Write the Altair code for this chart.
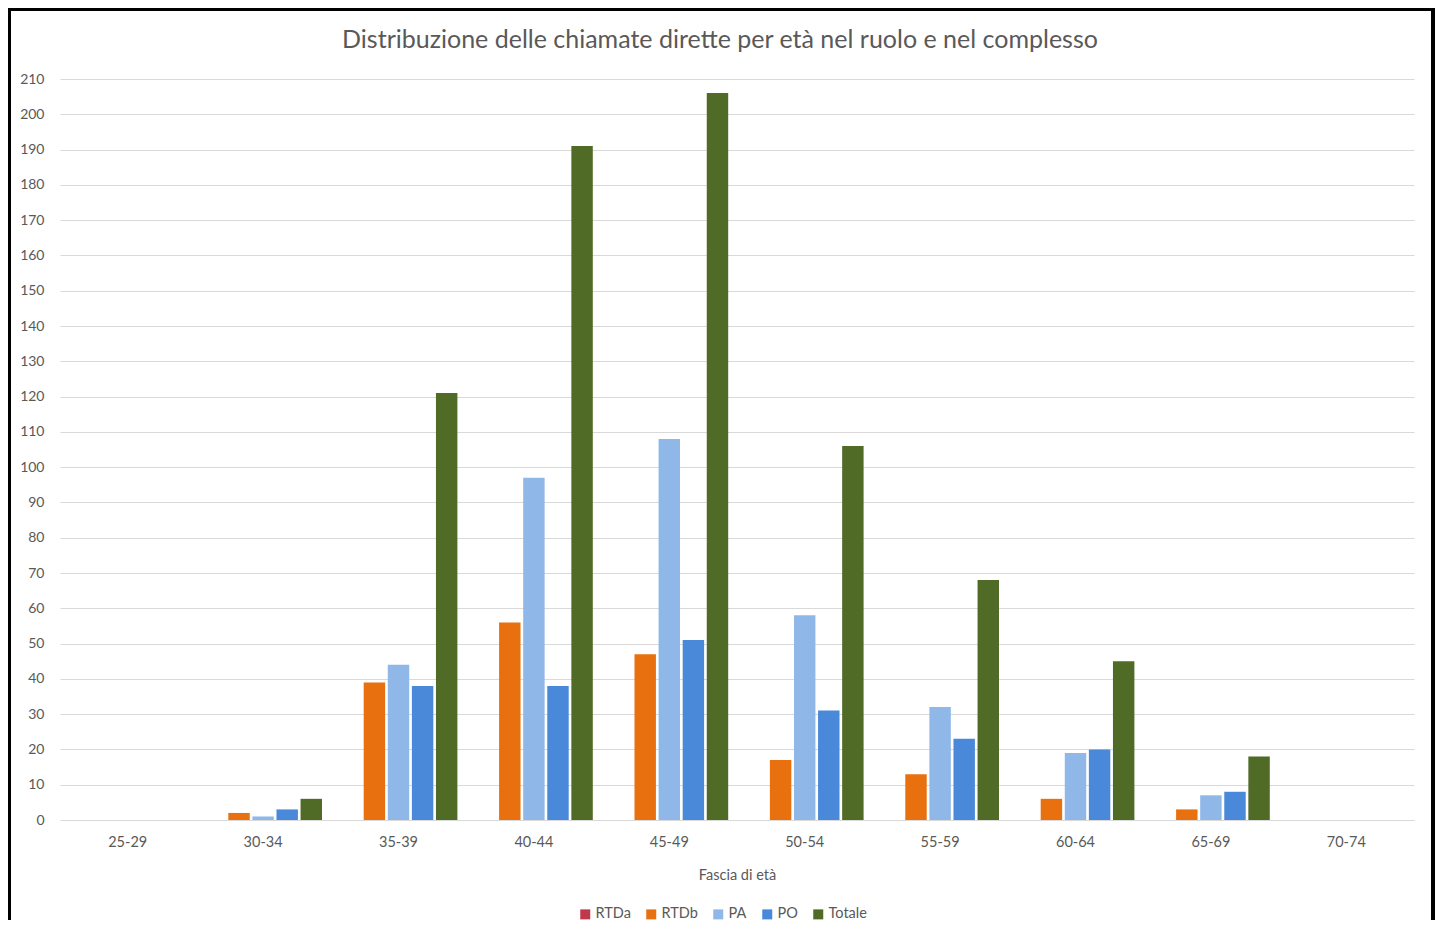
import altair as alt
import pandas as pd

categories = ["25-29", "30-34", "35-39", "40-44", "45-49", "50-54", "55-59", "60-64", "65-69", "70-74"]
series = ["RTDa", "RTDb", "PA", "PO", "Totale"]
rtda = [0, 0, 0, 0, 0, 0, 0, 0, 0, 0]
rtdb = [0, 2, 39, 56, 47, 17, 13, 6, 3, 0]
pa = [0, 1, 44, 97, 108, 58, 32, 19, 7, 0]
po = [0, 3, 38, 38, 51, 31, 23, 20, 8, 0]
totale = [0, 6, 121, 191, 206, 106, 68, 45, 18, 0]
colors = ["#C0394B", "#E8700F", "#8FB8E8", "#4A88D9", "#4F6B25"]
title_text = "Distribuzione delle chiamate dirette per età nel ruolo e nel complesso"

rows = []
for name, vals in zip(series, [rtda, rtdb, pa, po, totale]):
    for c, v in zip(categories, vals):
        rows.append({"Fascia": c, "Serie": name, "Valore": v})
df = pd.DataFrame(rows)

FONT = "Lato"
GRAY = "#595959"

bars = alt.Chart(df).mark_bar().encode(
    x=alt.X("Fascia:N", sort=categories,
            scale=alt.Scale(paddingInner=0.13, paddingOuter=0.065),
            axis=alt.Axis(title="Fascia di età", labelAngle=0, ticks=False, domain=False, grid=False,
                          labelPadding=15, titlePadding=20, labelFontSize=14.5,
                          titleFontSize=14.5, titleFontWeight="normal",
                          labelColor=GRAY, titleColor=GRAY, labelFont=FONT, titleFont=FONT)),
    xOffset=alt.XOffset("Serie:N", sort=series, scale=alt.Scale(paddingInner=0.11)),
    y=alt.Y("Valore:Q", scale=alt.Scale(domain=[0, 210], nice=False),
            axis=alt.Axis(title=None, values=list(range(0, 211, 10)), ticks=False, domain=False,
                          labelPadding=16, labelFontSize=14, labelColor=GRAY, labelFont=FONT,
                          gridColor="#D9D9D9", gridWidth=1)),
    color=alt.Color("Serie:N", sort=series,
                    scale=alt.Scale(domain=series, range=colors),
                    legend=alt.Legend(title=None, orient="none", direction="horizontal",
                                      legendX=518, legendY=828, symbolType="square",
                                      symbolSize=100, symbolStrokeWidth=0,
                                      labelFontSize=14.5, labelColor=GRAY, labelFont=FONT,
                                      columnPadding=13, symbolOffset=0, labelOffset=3)),
)

frame = alt.Chart(df).mark_rect(fill=None, stroke="#000000", strokeWidth=3).encode(
    x=alt.value(-51), x2=alt.value(1373), y=alt.value(-70), y2=alt.value(860)
)

title = alt.Chart(pd.DataFrame({"t": [title_text]})).mark_text(
    font=FONT, fontSize=25, color=GRAY, align="center", baseline="middle"
).encode(x=alt.value(660), y=alt.value(-39), text="t:N")

chart = alt.layer(bars, frame, title).properties(
    width=1354, height=741,
    autosize=alt.AutoSizeParams(type="none"),
    padding={"left": 52, "top": 71, "right": 21, "bottom": 100},
    background="white",
).configure_view(strokeWidth=0, stroke=None)

chart.save("out.html", embed_options={"renderer": "svg", "actions": False})
